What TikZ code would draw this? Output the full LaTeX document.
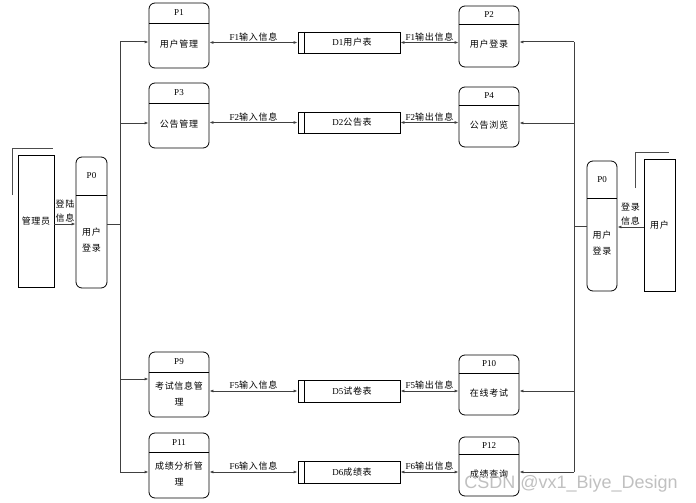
\documentclass[tikz,border=0pt]{standalone}
\usepackage{fontspec}
\setmainfont{Liberation Serif}
\newfontfamily\cjk[LetterSpace=8]{Noto Sans CJK SC}
\newfontfamily\wmfont{Liberation Sans}
\usetikzlibrary{arrows.meta, positioning, calc, fit}
\newcommand{\zh}[1]{{\cjk #1}}
\tikzset{
	procbox/.style ={rectangle, rounded corners=6pt, draw=black, line width=0.8pt, inner sep=0pt},
	store/.style   ={rectangle, draw=black, line width=0.8pt, inner sep=0pt, font=\fontsize{9}{10}\selectfont},
	entity/.style  ={rectangle, draw=black, line width=0.8pt, inner sep=0pt, font=\cjk\fontsize{9}{10}\selectfont},
	shade/.style   ={line width=0.7pt, black!70},
	flow/.style    ={line width=1pt, black!75},
	arr/.style     ={flow, -{Latex[length=4pt,width=3pt]}},
	biarr/.style   ={flow, {Latex[length=4pt,width=3pt]}-{Latex[length=4pt,width=3pt]}},
	flowlbl/.style ={above, inner sep=1pt, text=black, font=\fontsize{9}{10}\selectfont},
	inlbl/.style   ={above, inner sep=1pt, align=center, text=black, font=\cjk\fontsize{9}{14}\selectfont},
	ptitle/.style  ={font=\fontsize{9}{10}\selectfont},
	ptext/.style   ={align=center, font=\cjk\fontsize{9}{16}\selectfont},
}

\begin{document}
\begin{tikzpicture}[x=1pt, y=-1pt]
	\useasboundingbox (0,0) rectangle (696,503);
	% processes
	\foreach \n/\xa/\ya/\xb/\yb/\yd/\lab/\txt in {
		p0l/76/157/107/288/195/P0/{用户\\登录},
		p1/149/3/209/68/23/P1/{用户管理},
		p3/149/83/209/148/103/P3/{公告管理},
		p2/459/6/519/67/24/P2/{用户登录},
		p4/459/87/519/147/105/P4/{公告浏览},
		p0r/587/161/617/291/198/P0/{用户\\登录},
		p9/149/352/209/417/372/P9/{考试信息管\\理},
		p11/149/433/209/498/452/P11/{成绩分析管\\理},
		p10/459/355/519/415/373/P10/{在线考试},
		p12/459/437/519/496/454/P12/{成绩查询}}{
		\node[procbox, fit={(\xa,\ya) (\xb,\yb)}] (\n) {};
		\draw[line width=0.8pt] (\xa,\yd) -- (\xb,\yd);
		\node[ptitle] (\n-t) at ({(\xa+\xb)/2},{(\ya+\yd)/2}) {\lab};
		\node[ptext] (\n-b) at ({(\xa+\xb)/2},{(\yd+\yb)/2-1}) {\txt};
	}
	% data stores
	\foreach \d/\k/\ya/\yb/\txt in {d1/1/32/53/用户表, d2/2/112/133/公告表, d5/5/380/402/试卷表, d6/6/461/483/成绩表}{
		\node[store, fit={(298,\ya) (400,\yb)}] (\d) {};
		\draw[line width=0.8pt] (304,\ya) -- (304,\yb);
		\node[font=\fontsize{9}{10}\selectfont] (\d-t) at ($(\d)+(3,0)$) {D\k\zh{\txt}};
	}
	% entities
	\node[entity, fit={(18,155) (54,287)}] (admin) {};
	\node[entity, draw=none] at (admin) {管理员};
	\draw[shade] (12,195) |- (53,148);
	\node[entity, fit={(644,159) (675,291)}] (user) {};
	\node[entity, draw=none] at (user) {用户};
	\draw[shade] (635,188) |- (669,152);
	% login flows
	\draw[arr] (admin.east |- 0,224) -- node[inlbl] {登陆\\信息} (p0l.west |- 0,224);
	\draw[arr] (user.west |- 0,227) -- node[inlbl] {登录\\信息} (p0r.east |- 0,227);
	% left spine
	\coordinate (lt) at (120,42);
	\coordinate (lb) at (120,472);
	\draw[flow] (lt) -- (lb);
	\draw[flow] (p0l.east |- 0,224) -- (lt |- 0,224);
	\foreach \n/\y in {p1/42, p3/123, p9/379, p11/472}
		\draw[arr] (lt |- 0,\y) -- (\n.west |- 0,\y);
	% right spine
	\coordinate (rt) at (574,42);
	\coordinate (rb) at (574,472);
	\draw[flow] (rt) -- (rb);
	\draw[flow] (p0r.west |- 0,226) -- (rt |- 0,226);
	\foreach \n/\y in {p2/42, p4/123, p10/391, p12/472}
		\draw[arr] (rt |- 0,\y) -- (\n.east |- 0,\y);
	% store flows
	\foreach \p/\d/\q/\f in {p1/d1/p2/F1, p3/d2/p4/F2, p9/d5/p10/F5, p11/d6/p12/F6}{
		\draw[biarr] (\d.west -| \p.east) -- node[flowlbl] {\f\zh{输入信息}} (\d.west);
		\draw[biarr] (\d.east) -- node[flowlbl] {\f\zh{输出信息}} (\d.east -| \q.west);
	}
	\node[font=\wmfont\fontsize{18}{18}\selectfont, text=gray!55, opacity=0.9] (wm) at (571,484) {CSDN @vx1\_Biye\_Design};
\end{tikzpicture}
\end{document}
